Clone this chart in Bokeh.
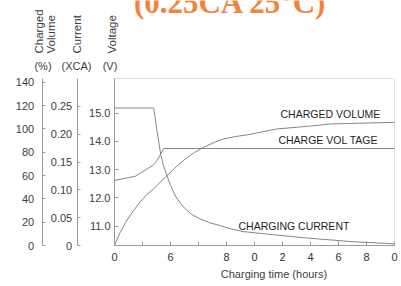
import math
from bokeh.plotting import figure
from bokeh.models import Range1d, LinearAxis, FixedTicker, Label, BoxAnnotation
from bokeh.embed import file_html
from bokeh.resources import INLINE

# ---- data ----
hours_v = [0, 1.5, 2.8, 3.05, 3.3, 3.52, 20]
voltage = [12.62, 12.77, 13.17, 13.33, 13.56, 13.75, 13.75]

hours_c = [0, 2.8, 3.0, 3.3, 3.5, 3.75, 4.0, 4.35, 4.7, 5.05, 5.5, 6.1, 6.8, 7.5, 8.3, 9.2,
           11.1, 13.5, 16.9, 20]
current = [0.247, 0.247, 0.212, 0.164, 0.143, 0.125, 0.108, 0.089, 0.076, 0.066, 0.056, 0.048,
           0.041, 0.036, 0.030, 0.025, 0.020, 0.014, 0.007, 0.003]

hours_p = [0, 0.4, 0.8, 1.3, 1.86, 2.3, 2.8, 3.88, 4.5, 5.07, 5.7, 6.38, 7.1, 7.8, 8.7, 9.5,
           11.6, 14, 15.4, 20]
volume = [0, 11, 20, 29, 37.7, 43.7, 48.6, 61.5, 68.6, 74.3, 79.8, 84.3, 88.4, 91.5, 93.6, 95,
          100, 102.5, 104.3, 105.7]

x_ticks = [0, 2, 4, 6, 8, 10, 12, 14, 16, 18, 20]
x_tick_labels = ["0", "", "6", "", "8", "0", "2", "4", "6", "8", "0"]
pct_ticks = [0, 20, 40, 60, 80, 100, 120, 140]
pct_tick_labels = ["0", "20", "40", "60", "80", "100", "120", "140"]
cur_ticks = [0, 0.05, 0.10, 0.15, 0.20, 0.25]
cur_tick_labels = ["0", "0.05", "0.10", "0.15", "0.20", "0.25"]
volt_ticks = [11, 12, 13, 14, 15]
volt_tick_labels = ["11.0", "12.0", "13.0", "14.0", "15.0"]

# axis extents (data units)
hours_span = (0, 20)
volt_span = (10.317, 16.228)
cur_span = (0, 0.3)
pct_span = (0, 143.3)

curve_names = ["CHARGED VOLUME", "CHARGE VOL TAGE", "CHARGING CURRENT"]
curve_name_x = [11.86, 11.71, 8.86]
curve_name_y = [14.96, 14.06, 10.99]

title_text = "(0.25CA 25°C)"
axis_titles = ["Charged", "Volume", "Current", "Voltage"]
unit_titles = ["(%)", "(XCA)", "(V)"]
x_title = "Charging time (hours)"

# ---- layout geometry (canvas pixels) ----
CW, CH = 401, 282
X_LEFT, X_RIGHT = 114, 394      # pixel of hours_span ends
Y_BOTTOM, Y_TOP = 245, 78       # pixel of axis ends (from top)
CUR_AXIS_PX, PCT_AXIS_PX = 76.7, 41.7

FONT = "Liberation Sans"
GRAY = "#9a9a9a"
LINE = "#858585"
TXT = "#404040"


def yrange(span):
    lo, hi = span
    per = (Y_BOTTOM - Y_TOP) / (hi - lo)
    return Range1d(lo - (CH - Y_BOTTOM) / per, hi + Y_TOP / per)


x_per = (X_RIGHT - X_LEFT) / (hours_span[1] - hours_span[0])
x_range = Range1d(hours_span[0] - X_LEFT / x_per, hours_span[1] + (CW - X_RIGHT) / x_per)


def px_to_hours(px):
    return hours_span[0] + (px - X_LEFT) / x_per


p = figure(width=CW, height=CH, output_backend="svg", toolbar_location=None,
           x_range=x_range, y_range=yrange(volt_span), min_border=0)
p.xgrid.visible = False
p.ygrid.visible = False
p.outline_line_color = None
p.background_fill_color = "white"
p.border_fill_color = "white"
p.extra_y_ranges = {"cur": yrange(cur_span), "pct": yrange(pct_span)}


def style_axis(ax, ticks, labels, standoff, tick_in):
    ax.ticker = FixedTicker(ticks=ticks)
    ax.major_label_overrides = {t: l for t, l in zip(ticks, labels)}
    ax.major_tick_in = tick_in
    ax.major_tick_out = 0
    ax.minor_tick_in = 0
    ax.minor_tick_out = 0
    ax.major_tick_line_color = GRAY
    ax.axis_line_color = GRAY
    ax.major_label_standoff = standoff
    ax.major_label_text_font = FONT
    ax.major_label_text_font_size = "11px"
    ax.major_label_text_color = TXT


vax = p.yaxis[0]
style_axis(vax, volt_ticks, volt_tick_labels, 4, 4)
vax.bounds = volt_span
vax.fixed_location = hours_span[0]

cax = LinearAxis(y_range_name="cur")
style_axis(cax, cur_ticks, cur_tick_labels, 5, 3)
cax.bounds = cur_span
cax.fixed_location = px_to_hours(CUR_AXIS_PX)
p.add_layout(cax, "left")

pax = LinearAxis(y_range_name="pct")
style_axis(pax, pct_ticks, pct_tick_labels, 8, 3)
pax.bounds = pct_span
pax.fixed_location = px_to_hours(PCT_AXIS_PX)
p.add_layout(pax, "left")

xax = p.xaxis[0]
style_axis(xax, x_ticks, x_tick_labels, 7, 4)
xax.major_label_text_color = "#333333"
xax.bounds = hours_span
xax.fixed_location = volt_span[0]

# frame border
p.add_layout(BoxAnnotation(left=hours_span[0], right=hours_span[1],
                           bottom=volt_span[0], top=volt_span[1],
                           fill_color=None, fill_alpha=0,
                           line_color=GRAY, line_width=1))

# ---- curves ----
p.line(hours_v, voltage, line_color=LINE, line_width=1)
p.line(hours_c, current, line_color=LINE, line_width=1, y_range_name="cur")
p.line(hours_p, volume, line_color=LINE, line_width=1, y_range_name="pct")

for name, x, y in zip(curve_names, curve_name_x, curve_name_y):
    p.add_layout(Label(x=x, y=y, text=name, text_font=FONT,
                       text_font_size="10.5px", text_color="#1e1e1e",
                       text_align="left", text_baseline="middle"))

# ---- captions (screen units; frame == canvas, y measured from bottom) ----
p.add_layout(Label(x=230, y=CH - 1.5, x_units="screen", y_units="screen",
                   text=title_text, text_font="Liberation Serif",
                   text_font_style="bold", text_font_size="31px",
                   text_color="#F0843A", text_align="center",
                   text_baseline="alphabetic"))

title_px = [38.3, 50, 76.7, 111.7]
for t, px in zip(axis_titles, title_px):
    p.add_layout(Label(x=px, y=CH - 53, x_units="screen", y_units="screen",
                       text=t, angle=math.pi / 2, text_font=FONT,
                       text_font_size="11.5px", text_color=TXT,
                       text_align="left", text_baseline="middle"))

unit_px = [42.5, 76, 109.5]
for t, px in zip(unit_titles, unit_px):
    p.add_layout(Label(x=px, y=CH - 65, x_units="screen", y_units="screen",
                       text=t, text_font=FONT, text_font_size="11px",
                       text_color=TXT, text_align="center", text_baseline="middle"))

p.add_layout(Label(x=273.5, y=CH - 273, x_units="screen", y_units="screen",
                   text=x_title, text_font=FONT, text_font_size="11px",
                   text_color=TXT, text_align="center", text_baseline="middle"))

open("out.html", "w").write(file_html(p, INLINE))
